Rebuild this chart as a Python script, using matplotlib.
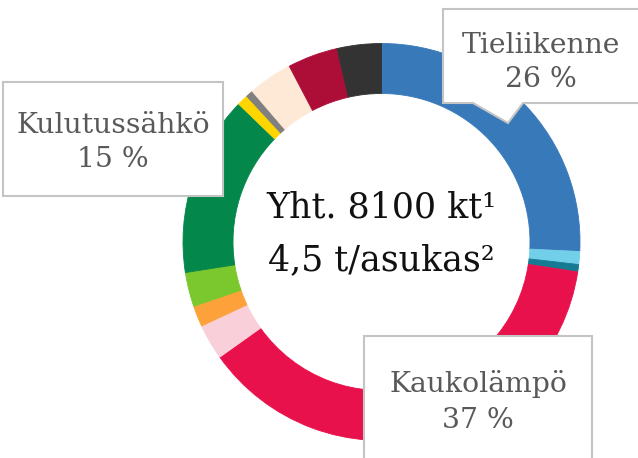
import matplotlib
matplotlib.use("Agg")
import matplotlib.pyplot as plt
from matplotlib.patches import Polygon, Rectangle

# ---- data ----
categories = ["Tieliikenne", "Raideliikenne", "Laivaliikenne", "Kaukolämpö",
              "Sähkölämmitys", "Öljylämmitys", "Maalämpö", "Kulutussähkö",
              "Teollisuus", "Työkoneet", "Maatalous", "Jätehuolto", "Muut"]
values = [25.8, 1.05, 0.6, 37.8, 2.9, 1.7, 2.8, 14.7, 0.9, 0.6, 3.6, 4.1, 3.6]
colors = ["#3779b9", "#72cfea", "#177a93", "#e8114b", "#f9d0da", "#fda23a",
          "#7ac72e", "#03874a", "#ffd500", "#808080", "#fde9d5", "#ad0e38",
          "#333333"]
center_lines = ["Yht. 8100 kt¹", "4,5 t/asukas²"]
callouts = [("Tieliikenne", "26 %"), ("Kulutussähkö", "15 %"), ("Kaukolämpö", "37 %")]

W, H = 638, 458
fig = plt.figure(figsize=(W / 100, H / 100), dpi=100)
ax = fig.add_axes([0, 0, 1, 1])

def Y(py):
    return H - py

cx, cy, R, width = 381.5, Y(242), 198.5, 50
wedges, _ = ax.pie(values, colors=colors, startangle=90, counterclock=False,
                   center=(cx, cy), radius=R, frame=True,
                   wedgeprops=dict(width=width, linewidth=0.6))
for w in wedges:
    w.set_edgecolor(w.get_facecolor())
ax.set_xlim(0, W)
ax.set_ylim(0, H)
ax.set_aspect("auto")
ax.axis("off")

font = "DejaVu Serif"
ax.text(cx, Y(217), center_lines[0], ha="center", va="baseline",
        fontsize=25, family=font, color="#111111", zorder=5)
ax.text(cx, Y(270), center_lines[1], ha="center", va="baseline",
        fontsize=25, family=font, color="#111111", zorder=5)

edge = "#c4c4c4"
lw = 1.5
# Tieliikenne callout with pointer
pts = [(443, 9), (645, 9), (645, 103), (523, 103), (508, 123), (473, 103), (443, 103)]
ax.add_patch(Polygon([(x, Y(y)) for x, y in pts], closed=True, facecolor="white",
                     edgecolor=edge, linewidth=lw, zorder=4))
# Kulutussähkö box
ax.add_patch(Rectangle((3, Y(196)), 220, 114, facecolor="white",
                       edgecolor=edge, linewidth=lw, zorder=4))
# Kaukolämpö box
ax.add_patch(Rectangle((364, Y(470)), 228, 134, facecolor="white",
                       edgecolor=edge, linewidth=lw, zorder=4))

lab_col = "#595959"
fs = 20.3
positions = [(541, 53, 87), (113, 133, 167), (478, 392, 428)]
for (name, pct), (x, b1, b2) in zip(callouts, positions):
    ax.text(x, Y(b1), name, ha="center", va="baseline", fontsize=fs,
            family=font, color=lab_col, zorder=6)
    ax.text(x, Y(b2), pct, ha="center", va="baseline", fontsize=fs,
            family=font, color=lab_col, zorder=6)

fig.savefig("out.png", dpi=100)
